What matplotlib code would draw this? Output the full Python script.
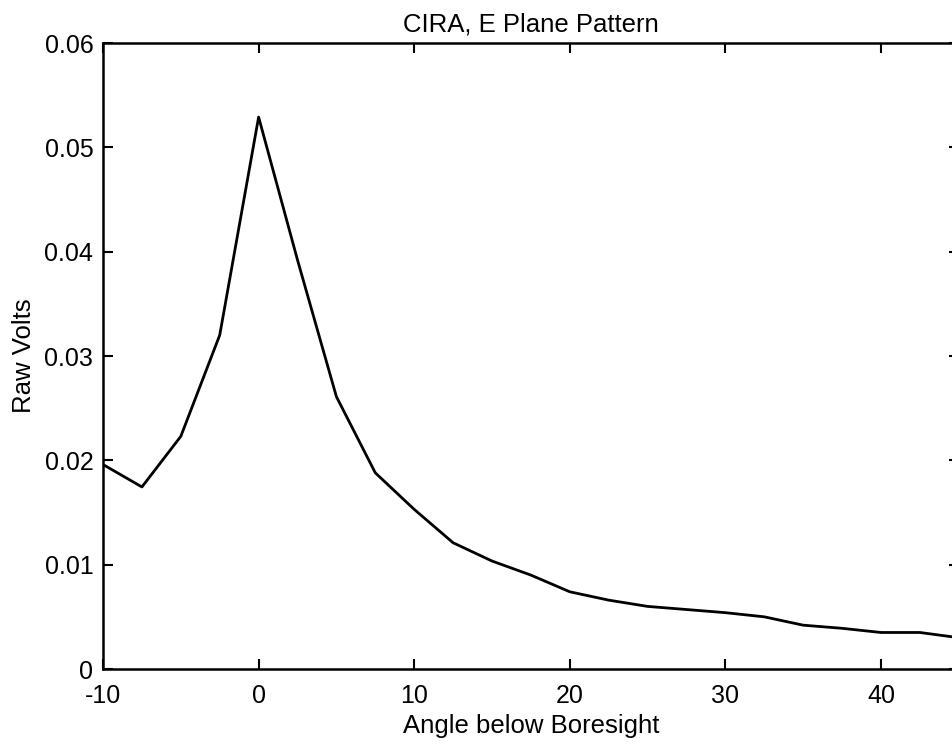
import matplotlib.pyplot as plt
import numpy as np

plt.rcParams['font.family'] = ['Liberation Sans', 'DejaVu Sans']

# angulo bajo boresight (grados) y voltaje medido
angulos = [-10, -7.5, -5, -2.5, 0, 2.5, 5, 7.5, 10, 12.5, 15, 17.5,
           20, 22.5, 25, 27.5, 30, 32.5, 35, 37.5, 40, 42.5, 45]
voltios = [0.0196, 0.01745, 0.0223, 0.0320, 0.0529, 0.0392, 0.0261, 0.0188,
           0.0153, 0.0121, 0.01035, 0.0090, 0.0074, 0.0066, 0.0060, 0.0057,
           0.0054, 0.0050, 0.0042, 0.0039, 0.0035, 0.0035, 0.0030]

xticks = [-10, 0, 10, 20, 30, 40]
yticks = [0, 0.01, 0.02, 0.03, 0.04, 0.05, 0.06]
ytick_labels = ["0", "0.01", "0.02", "0.03", "0.04", "0.05", "0.06"]

fig = plt.figure(figsize=(9.53, 7.44), dpi=100)
ax = fig.add_axes([0.1081, 0.1008, 0.898, 0.8414])

ax.plot(angulos, voltios, color="black", linewidth=2.0)

ax.set_xlim(-10, 45)
ax.set_ylim(0, 0.06)
ax.set_xticks(xticks)
ax.set_xticklabels([str(t) for t in xticks])
ax.set_yticks(yticks)
ax.set_yticklabels(ytick_labels)

ax.tick_params(direction="in", length=7, width=1.5, labelsize=18,
               top=True, right=True, color="black")
ax.tick_params(axis="x", pad=11)
ax.tick_params(axis="y", pad=7)
for s in ax.spines.values():
    s.set_linewidth(1.8)

ax.set_title("CIRA, E Plane Pattern", fontsize=18.5, pad=8)
ax.set_xlabel("Angle below Boresight", fontsize=18.5, labelpad=4)
ax.set_ylabel("Raw Volts", fontsize=18.5, labelpad=6)

fig.savefig("out.png", dpi=100)
